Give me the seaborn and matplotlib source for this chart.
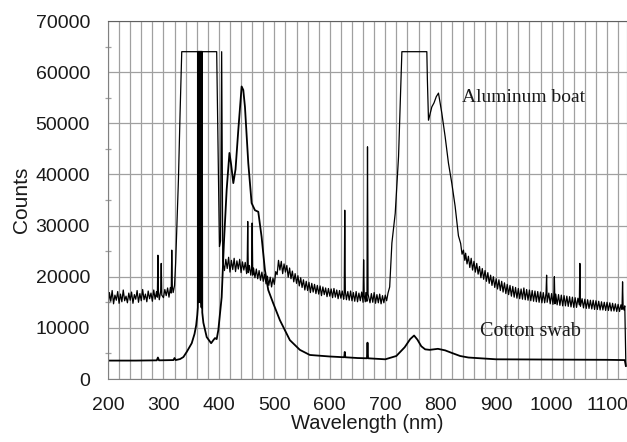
import numpy as np
import pandas as pd
import matplotlib
matplotlib.use("Agg")
import matplotlib.pyplot as plt
from matplotlib.ticker import MultipleLocator
import seaborn as sns

# Cotton swab spectrum
cotton_wl = [200, 250, 288, 290, 292, 318, 320, 322, 330, 336,
             342, 351, 356, 359, 361, 362, 363, 363.8, 364.6, 365.4,
             366.2, 367, 367.8, 368.6, 369.4, 370, 372, 378, 386, 390,
             393, 396, 399, 405, 409, 414, 419, 422, 426, 430,
             435, 441, 444, 447, 453, 459, 465, 471, 477, 483,
             489, 498, 510, 528, 546, 564, 600, 626, 627, 628,
             650, 667, 668, 669, 700, 720, 735, 745, 752, 758,
             765, 772, 780, 795, 808, 820, 835, 850, 900, 1000,
             1100, 1132, 1134]
cotton_counts = [3600, 3600, 3650, 4200, 3650, 3700, 4100, 3700, 3900, 4300,
                 5300, 7000, 8800, 10500, 12500, 14000, 64000, 15000, 64000, 16000,
                 64000, 15000, 64000, 14000, 64000, 13000, 11000, 8200, 7000, 7600,
                 8000, 7800, 9600, 16000, 26500, 37000, 44200, 42000, 38300, 41000,
                 48700, 57200, 56500, 53200, 42200, 34400, 33000, 32700, 27800, 21300,
                 17400, 14800, 11500, 7600, 5700, 4700, 4400, 4250, 5300, 4250,
                 4100, 4050, 7100, 4050, 3850, 4500, 6200, 7800, 8500, 7700,
                 6400, 5800, 5700, 5900, 5600, 5100, 4500, 4200, 3850, 3800,
                 3750, 3700, 2500]

# Aluminum boat spectrum, (wavelength, counts), by region
alu_uv = [(200, 13800), (202.5, 16900), (205, 15200), (207.5, 17300), (210, 14700),
          (212.5, 16400), (215, 15400), (217.5, 17100), (220, 14800), (222.5, 16600),
          (225, 15100), (227.5, 17400), (230, 15300), (232.5, 16200), (235, 14900),
          (237.5, 16800), (240, 15400), (242.5, 17000), (245, 14800), (247.5, 16500),
          (250, 15600), (252.5, 17300), (255, 15000), (257.5, 16700), (260, 15300),
          (262.5, 17500), (265, 15500), (267.5, 16600), (270, 15100), (272.5, 17200),
          (275, 15700), (277.5, 16800), (280, 15200), (282.5, 17400), (285, 15600),
          (287.5, 17100), (289, 16000), (290, 24200), (291, 16900), (292.5, 15500),
          (295, 17200), (296, 22600), (297, 16400), (300, 15900), (302.5, 17500),
          (305, 16300), (307.5, 17800), (310, 16000), (312.5, 17900), (314, 16800),
          (315, 25200), (316, 18100), (317.5, 16900), (320, 18300)]
alu_sat1 = [(322, 22700), (327, 38900), (330, 52000), (333, 64000), (396, 64000),
            (401, 25900), (403, 27000), (405, 64000)]
alu_vis = [(407, 23000), (410, 21200), (412.5, 23400), (415, 21600), (417.5, 23800),
           (420, 20900), (422.5, 23200), (425, 21400), (427.5, 23600), (430, 21000),
           (432.5, 23100), (435, 21500), (437.5, 23400), (440, 20800), (442.5, 22900),
           (445, 21300), (447.5, 22800), (450, 20600), (451, 21900), (452, 30800),
           (453, 20800), (455, 22200), (457.5, 20300), (459, 21600), (460, 30500),
           (461, 20300), (462.5, 21700), (465, 19800), (467.5, 21500), (470, 19600),
           (472.5, 21200), (475, 19300), (477.5, 20900), (480, 19100), (482.5, 20500),
           (485, 18600), (487.5, 20100), (490, 18300), (492.5, 19900), (495, 18000),
           (497.5, 19700), (500, 18500), (502.5, 21000), (505, 20400), (507.5, 23200),
           (510, 21300), (512.5, 23000), (515, 20600), (517.5, 22500), (520, 20900),
           (522.5, 22200), (525, 19900), (527.5, 21700), (530, 19600), (532.5, 21100),
           (535, 19000), (537.5, 20600), (540, 18700), (542.5, 20200), (545, 18200),
           (547.5, 19800), (550, 17900), (552.5, 19400), (555, 17400), (557.5, 19100),
           (560, 17300), (562.5, 18900), (565, 16900), (567.5, 18700), (570, 17000),
           (572.5, 18500), (575, 16700), (577.5, 18300), (580, 16600), (582.5, 18200),
           (585, 16300), (587.5, 18000), (590, 16500), (592.5, 17800), (595, 16100),
           (597.5, 17700), (600, 16200), (602.5, 17600), (605, 15900), (607.5, 17700),
           (610, 16000), (612.5, 17400), (615, 15700), (617.5, 17300), (620, 15800),
           (622.5, 17200), (625, 15600), (626, 16400), (627, 33000), (628, 17200),
           (630, 15500), (632.5, 17100), (635, 15400), (637.5, 17200), (640, 15300),
           (642.5, 16900), (645, 15200), (647.5, 17100), (650, 15100), (652.5, 16800),
           (655, 15300), (657.5, 17000), (660, 15000), (661, 23300), (662, 16400),
           (664, 15100), (665, 16900), (667, 15200), (668, 45400), (669, 16600),
           (672.5, 14900), (675, 16700), (677.5, 15000), (680, 16900), (682.5, 14800),
           (685, 16500), (687.5, 14900), (690, 16600), (692.5, 14700), (695, 16300),
           (697.5, 14900), (700, 16400), (702.5, 15300), (705, 16800)]
alu_sat2 = [(708, 18000), (712, 26600), (718, 32400), (724, 43500), (730, 64000),
            (775, 64000), (776, 58500), (778, 50600), (784, 53200), (788, 54000),
            (792, 55200), (796, 55900), (802, 52000), (808, 47400), (814, 42200),
            (820, 38300), (826, 33800), (832, 28000), (836, 26500)]
alu_nir = [(838.5, 24400), (841, 25200), (843.5, 23200), (845, 24600), (847.5, 22500),
           (850, 24000), (852.5, 21800), (855, 23600), (857.5, 21300), (860, 23000),
           (862.5, 20900), (865, 22600), (867.5, 20500), (870, 22000), (872.5, 19800),
           (875, 21600), (877.5, 19500), (880, 21200), (882.5, 19100), (885, 20800),
           (887.5, 18700), (890, 20300), (892.5, 18300), (895, 20000), (897.5, 17900),
           (900, 19600), (902.5, 17600), (905, 19400), (907.5, 17300), (910, 19100),
           (912.5, 17000), (915, 18800), (917.5, 16700), (920, 18500), (922.5, 16500),
           (925, 18300), (927.5, 16200), (930, 18100), (932.5, 16000), (935, 17900),
           (937.5, 15800), (940, 17700), (942.5, 15700), (945, 17600), (947.5, 15600),
           (950, 17800), (952.5, 15500), (955, 17500), (957.5, 15400), (960, 17400),
           (962.5, 15300), (965, 17300), (967.5, 15200), (970, 17200), (972.5, 15100),
           (975, 17100), (977.5, 15000), (980, 17000), (982.5, 14900), (985, 16900),
           (987.5, 14900), (990, 16800), (991, 20300), (992, 15000), (995, 16800),
           (997.5, 14700), (1000, 16700), (1002.5, 14600), (1004, 16400), (1005, 20000),
           (1006, 14700), (1007.5, 16600), (1010, 14500), (1012.5, 16500), (1015, 14400),
           (1017.5, 16400), (1020, 14300), (1022.5, 16300), (1025, 14300), (1027.5, 16200),
           (1030, 14200), (1032.5, 16100), (1035, 14100), (1037.5, 16000), (1040, 14000),
           (1042.5, 15900), (1045, 14000), (1047.5, 15800), (1050, 14500), (1051, 22600),
           (1052, 14200), (1055, 15700), (1057.5, 13900), (1060, 15600), (1062.5, 13800),
           (1065, 15500), (1067.5, 13800), (1070, 15400), (1072.5, 13700), (1075, 15400),
           (1077.5, 13600), (1080, 15300), (1082.5, 13600), (1085, 15200), (1087.5, 13500),
           (1090, 15100), (1092.5, 13500), (1095, 15000), (1097.5, 13400), (1100, 15000),
           (1102.5, 13400), (1105, 14900), (1107.5, 13300), (1110, 14800), (1112.5, 13300),
           (1115, 14700), (1117.5, 13200), (1120, 14600), (1122.5, 13200), (1125, 14500),
           (1127, 13600), (1128, 19000), (1129, 14200), (1130.5, 13500), (1132, 14300),
           (1134, 2500)]

xticks = [200, 300, 400, 500, 600, 700, 800, 900, 1000, 1100]
yticks = [0, 10000, 20000, 30000, 40000, 50000, 60000, 70000]

sns.set_style("white")
plt.rcParams['font.family'] = ['Liberation Sans', 'DejaVu Sans']

alu = pd.DataFrame(alu_uv + alu_sat1 + alu_vis + alu_sat2 + alu_nir,
                   columns=['wl', 'counts'])
cot = pd.DataFrame({'wl': cotton_wl, 'counts': cotton_counts})

fig = plt.figure(figsize=(6.27, 4.42), dpi=100)
ax = fig.add_axes([108 / 627, 63 / 442, 519 / 627, 358 / 442])

sns.lineplot(data=alu, x='wl', y='counts', ax=ax, color='black', linewidth=0.9,
             estimator=None, sort=False)
sns.lineplot(data=cot, x='wl', y='counts', ax=ax, color='black', linewidth=1.3,
             estimator=None, sort=False)

ax.set_xlim(200, 1136)
ax.set_ylim(0, 70000)
ax.set_xticks(xticks)
ax.set_yticks(yticks)
ax.xaxis.set_minor_locator(MultipleLocator(20))
ax.yaxis.set_minor_locator(MultipleLocator(5000))

ax.grid(which='both', axis='x', color='#a0a0a0', linewidth=0.9)
ax.grid(which='major', axis='y', color='#a0a0a0', linewidth=0.9)
ax.set_axisbelow(True)

ax.tick_params(axis='x', which='both', length=3, width=0.9, color='#a0a0a0',
               pad=10, labelsize=14, labelcolor='#1a1a1a')
ax.tick_params(axis='y', which='major', length=6, width=0.9, color='#a0a0a0',
               pad=7, labelsize=14, labelcolor='#1a1a1a')
ax.tick_params(axis='y', which='minor', length=4, width=0.9, color='#a0a0a0',
               direction='inout', left=True)

for side in ['left', 'bottom', 'right']:
    ax.spines[side].set_color('#808080')
ax.spines['top'].set_color('#606060')

ax.set_xlabel('Wavelength (nm)', fontsize=14.5, labelpad=0, color='#1a1a1a')
ax.set_ylabel('Counts', fontsize=15, labelpad=3, color='#1a1a1a')

ax.text(838, 55100, 'Aluminum boat', family='Liberation Serif', fontsize=14,
        va='center', ha='left', color='#1a1a1a')
ax.text(871, 9250, 'Cotton swab', family='Liberation Serif', fontsize=14.5,
        va='center', ha='left', color='#1a1a1a')

fig.savefig('out.png', dpi=100)
